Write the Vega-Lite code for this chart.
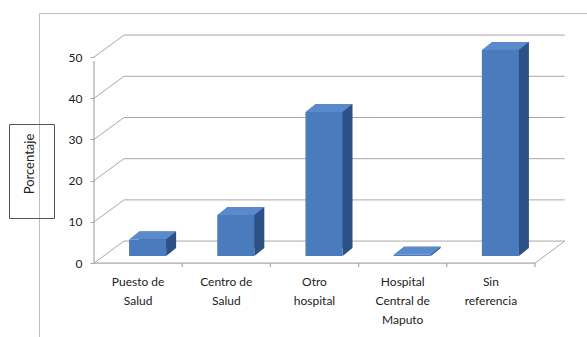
{
  "$schema": "https://vega.github.io/schema/vega-lite/v6.json",
  "width": 560,
  "height": 334,
  "autosize": {"type": "none"},
  "padding": {"left": 39, "top": 13, "right": 0, "bottom": 0},
  "background": "white",
  "config": {
    "view": {"stroke": "#bdbdbd", "strokeWidth": 1},
    "font": "Lato"
  },
  "datasets": {
    "bars": [
      {"cat": "Puesto de Salud", "v": 4},
      {"cat": "Centro de Salud", "v": 10},
      {"cat": "Otro hospital", "v": 35},
      {"cat": "Hospital Central de Maputo", "v": 0.3},
      {"cat": "Sin referencia", "v": 50}
    ],
    "grid": [{"g": 0}, {"g": 10}, {"g": 20}, {"g": 30}, {"g": 40}, {"g": 50}],
    "one": [{"k": 1}]
  },
  "data": {"name": "bars"},
  "layer": [
    {
      "mark": {"type": "bar", "opacity": 0, "width": {"band": 0.42}},
      "encoding": {
        "x": {
          "field": "cat", "type": "nominal", "sort": null, "title": null,
          "scale": {"domain": ["Puesto de Salud", "Centro de Salud", "Otro hospital", "Hospital Central de Maputo", "Sin referencia"], "range": [55, 496], "paddingInner": 0, "paddingOuter": 0},
          "axis": {
            "orient": "bottom", "offset": -84, "domain": false, "ticks": false,
            "labelAngle": 0, "labelAlign": "center",
            "labelFontSize": 12, "labelColor": "#222", "labelPadding": 13,
            "labelBaseline": "top", "labelLineHeight": 19,
            "labelExpr": "datum.label == 'Puesto de Salud' ? ['Puesto de', 'Salud'] : datum.label == 'Centro de Salud' ? ['Centro de', 'Salud'] : datum.label == 'Otro hospital' ? ['Otro', 'hospital'] : datum.label == 'Hospital Central de Maputo' ? ['Hospital', 'Central de', 'Maputo'] : ['Sin', 'referencia']"
          }
        },
        "y": {
          "field": "v", "type": "quantitative", "title": null,
          "scale": {"domain": [-20.37, 60.7], "nice": false, "zero": false},
          "axis": {
            "orient": "left", "offset": -55, "domain": false, "grid": false,
            "values": [0, 10, 20, 30, 40, 50], "tickSize": 4, "tickColor": "#a8a8a8",
            "labelFontSize": 12, "labelColor": "#222", "labelPadding": 8
          }
        },
        "y2": {"datum": 0}
      }
    },
    {
      "data": {"name": "grid"},
      "mark": {"type": "rule", "color": "#a8a8a8", "strokeWidth": 1, "xOffset": -14.1, "x2Offset": 73.9, "yOffset": -22},
      "encoding": {
        "x": {"datum": "Puesto de Salud", "type": "nominal"},
        "x2": {"datum": "Sin referencia"},
        "y": {"field": "g", "type": "quantitative"}
      }
    },
    {
      "data": {"name": "grid"},
      "mark": {"type": "rule", "color": "#a8a8a8", "strokeWidth": 1, "xOffset": -44.1, "x2Offset": -14.1, "y2Offset": -22},
      "encoding": {
        "x": {"datum": "Puesto de Salud", "type": "nominal"},
        "x2": {"datum": "Puesto de Salud"},
        "y": {"field": "g", "type": "quantitative"},
        "y2": {"field": "g"}
      }
    },
    {
      "data": {"name": "one"},
      "mark": {"type": "rule", "color": "#a8a8a8", "strokeWidth": 1, "xOffset": 44.1, "x2Offset": 73.9, "y2Offset": -22},
      "encoding": {
        "x": {"datum": "Sin referencia", "type": "nominal"},
        "x2": {"datum": "Sin referencia"},
        "y": {"datum": 0, "type": "quantitative"},
        "y2": {"datum": 0}
      }
    },
    {
      "data": {"name": "one"},
      "mark": {"type": "rule", "color": "#a8a8a8", "strokeWidth": 1.2, "xOffset": -44.1, "x2Offset": 44.1},
      "encoding": {
        "x": {"datum": "Puesto de Salud", "type": "nominal"},
        "x2": {"datum": "Sin referencia"},
        "y": {"datum": 0, "type": "quantitative"}
      }
    },
    {
      "data": {"name": "one"},
      "mark": {"type": "rule", "color": "#a8a8a8", "strokeWidth": 1.2, "xOffset": -44.1, "y2Offset": 4},
      "encoding": {
        "x": {"datum": "Puesto de Salud", "type": "nominal"},
        "y": {"datum": 0, "type": "quantitative"},
        "y2": {"datum": 50}
      }
    },
    {
      "mark": {"type": "rule", "color": "#a8a8a8", "strokeWidth": 1.2, "xOffset": 44.1, "y2Offset": 4},
      "encoding": {
        "x": {"field": "cat", "type": "nominal", "sort": null},
        "y": {"datum": 0, "type": "quantitative"},
        "y2": {"datum": 0}
      }
    },
    {
      "mark": {"type": "bar", "color": "#2d5185", "width": {"band": 0.42}, "xOffset": 19.5, "x2Offset": 19.5, "yOffset": -15, "y2Offset": -15},
      "encoding": {
        "x": {"field": "cat", "type": "nominal", "sort": null},
        "y": {"field": "v", "type": "quantitative"},
        "y2": {"datum": 0}
      }
    },
    {
      "mark": {"type": "point", "filled": true, "opacity": 1, "size": 4, "strokeWidth": 0, "color": "#2d5185", "shape": "M18.5,-8L28.5,-8L18.5,0Z", "xOffset": 9.5, "yOffset": -7},
      "encoding": {
        "x": {"field": "cat", "type": "nominal", "sort": null},
        "y": {"datum": 0, "type": "quantitative"}
      }
    },
    {
      "mark": {"type": "bar", "width": {"band": 0.42}, "xOffset": 9.5, "x2Offset": 9.5, "yOffset": -7, "y2Offset": -7},
      "encoding": {
        "x": {"field": "cat", "type": "nominal", "sort": null},
        "y": {"field": "v", "type": "quantitative"},
        "y2": {"datum": 0},
        "color": {
          "field": "v", "type": "quantitative", "title": "Porcentaje",
          "scale": {"range": ["#4a7bbd", "#4a7bbd"]},
          "legend": {
            "orient": "none", "legendX": -30, "legendY": 111,
            "type": "gradient", "direction": "vertical",
            "gradientLength": 64, "gradientThickness": 0.5, "gradientOpacity": 0, "gradientStrokeWidth": 0,
            "labelExpr": "''", "labelOffset": 0, "labelFontSize": 1, "labelLimit": 1,
            "titleOrient": "left", "titleAnchor": "middle", "titlePadding": 0,
            "titleFontSize": 13, "titleFontWeight": "normal", "titleColor": "#222", "titleFont": "Lato",
            "padding": 15, "strokeColor": "#555555"
          }
        }
      }
    },
    {
      "mark": {"type": "point", "filled": true, "opacity": 1, "size": 4, "strokeWidth": 0, "color": "#5a8acb", "shape": "M-18.5,0L18.5,0L28.5,-8L-8.5,-8Z", "xOffset": 9.5, "yOffset": -7},
      "encoding": {
        "x": {"field": "cat", "type": "nominal", "sort": null},
        "y": {"field": "v", "type": "quantitative"}
      }
    }
  ]
}
